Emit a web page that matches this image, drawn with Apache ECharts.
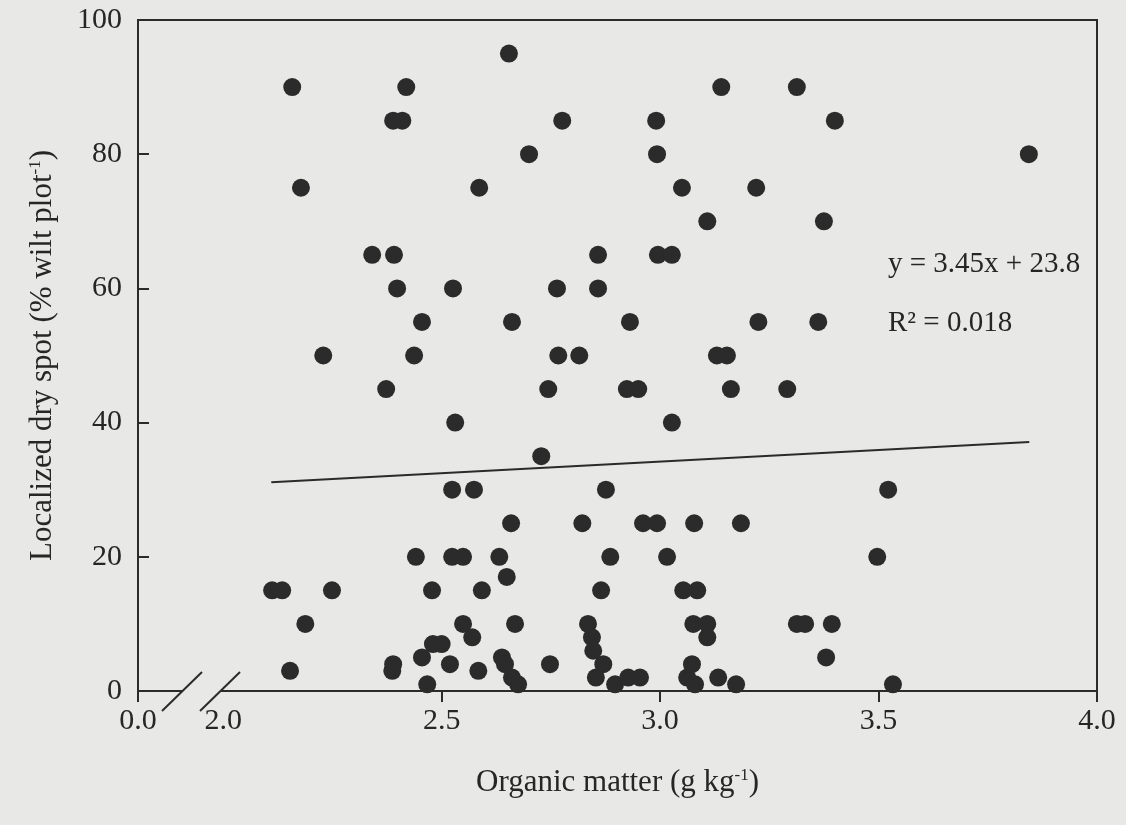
<!DOCTYPE html>
<html>
<head>
<meta charset="utf-8">
<script src="https://cdn.jsdelivr.net/npm/echarts@6/dist/echarts.min.js"></script>
<style>
  html, body { margin: 0; padding: 0; background: #e8e8e6; }
  #chart { width: 1126px; height: 825px; }
</style>
</head>
<body>
<div id="chart"></div>
<script>
// organic matter (g kg-1) and localized dry spot (% wilt plot-1)
const organicMatter = [
  2.158, 2.419, 2.389, 2.410, 2.178, 2.341, 2.391, 2.654, 3.140, 2.776,
  2.991, 2.700, 2.993, 2.586, 3.050, 3.220, 3.108, 2.858, 2.995, 3.027,
  3.313, 3.400, 3.844, 3.375, 2.398, 2.526, 2.455, 2.229, 2.437, 2.373,
  2.531, 2.764, 2.858, 2.661, 2.931, 3.225, 2.767, 2.815, 3.130, 3.153,
  2.744, 2.924, 2.950, 3.162, 3.027, 2.728, 2.524, 2.574, 2.876, 3.362,
  3.291, 3.522, 2.441, 2.112, 2.135, 2.249, 2.478, 2.188, 2.153, 2.389,
  2.387, 2.455, 2.480, 2.500, 2.467, 2.659, 2.822, 2.961, 2.993, 3.078,
  3.185, 2.524, 2.549, 2.632, 2.649, 2.886, 3.016, 2.592, 2.865, 3.053,
  3.085, 2.549, 2.570, 2.668, 2.835, 2.844, 2.847, 2.870, 2.853, 2.897,
  2.927, 2.954, 3.076, 3.108, 3.108, 3.073, 3.062, 3.080, 3.133, 3.174,
  2.519, 2.584, 2.748, 2.638, 2.645, 2.661, 2.675, 3.497, 3.313, 3.332,
  3.393, 3.380, 3.533
]
const drySpot = [
  90, 90, 85, 85, 75, 65, 65, 95, 90, 85,
  85, 80, 80, 75, 75, 75, 70, 65, 65, 65,
  90, 85, 80, 70, 60, 60, 55, 50, 50, 45,
  40, 60, 60, 55, 55, 55, 50, 50, 50, 50,
  45, 45, 45, 45, 40, 35, 30, 30, 30, 55,
  45, 30, 20, 15, 15, 15, 15, 10, 3, 4,
  3, 5, 7, 7, 1, 25, 25, 25, 25, 25,
  25, 20, 20, 20, 17, 20, 20, 15, 15, 15,
  15, 10, 8, 10, 10, 8, 6, 4, 2, 1,
  2, 2, 10, 10, 8, 4, 2, 1, 2, 1,
  4, 3, 4, 5, 4, 2, 1, 20, 10, 10,
  10, 5, 1
]
// fitted line y = 3.45x + 23.8, ends
const trendX = [2.11, 3.845]
const trendY = [31.1, 37.1]

const xAxisStart = 1.805   // drawn as "0.0" left of the axis break
const xLabelValues = [xAxisStart, 2.0, 2.5, 3.0, 3.5, 4.0]
const xTickValues = [xAxisStart, 2.5, 3.0, 3.5, 4.0]

const bg = '#e8e8e6'
const ink = '#2b2b2b'
const textInk = '#262626'
const serif = '"Liberation Serif", "Times New Roman", serif'

const chart = echarts.init(document.getElementById('chart'))

const points = organicMatter.map((x, i) => [x, drySpot[i]])
const trend = trendX.map((x, i) => [x, trendY[i]])

const nameStyle = {
  color: textInk,
  fontFamily: serif,
  fontSize: 31,
  rich: {
    sup: { color: textInk, fontFamily: serif, fontSize: 17, verticalAlign: 'top', lineHeight: 17 }
  }
}

const option = {
  backgroundColor: bg,
  animation: false,
  grid: {
    left: 138, right: 29, top: 20, bottom: 134,
    show: true, borderColor: ink, borderWidth: 2,
    backgroundColor: 'transparent',
    outerBoundsMode: 'none'
  },
  xAxis: {
    type: 'value',
    min: xAxisStart,
    max: 4.0,
    splitLine: { show: false },
    axisLine: { lineStyle: { color: ink, width: 2 } },
    axisTick: { customValues: xTickValues, inside: false, length: 11, lineStyle: { color: ink, width: 2 } },
    axisLabel: {
      customValues: xLabelValues,
      margin: 15,
      color: textInk,
      fontFamily: serif,
      fontSize: 30,
      formatter: v => (v < 1.9 ? '0.0' : v.toFixed(1))
    },
    name: 'Organic matter (g kg{sup|-1})',
    nameLocation: 'middle',
    nameGap: 76,
    nameTextStyle: nameStyle
  },
  yAxis: {
    type: 'value',
    min: 0,
    max: 100,
    interval: 20,
    splitLine: { show: false },
    axisLine: { lineStyle: { color: ink, width: 2 } },
    axisTick: { inside: true, length: 11, lineStyle: { color: ink, width: 2 } },
    axisLabel: { margin: 16, color: textInk, fontFamily: serif, fontSize: 30 },
    name: 'Localized dry spot (% wilt plot{sup|-1})',
    nameLocation: 'middle',
    nameGap: 80,
    nameTextStyle: nameStyle
  },
  series: [
    {
      type: 'scatter',
      data: points,
      symbolSize: 18,
      itemStyle: { color: ink, opacity: 1 },
      z: 3
    },
    {
      type: 'line',
      data: trend,
      symbol: 'none',
      lineStyle: { color: ink, width: 2 },
      z: 2
    }
  ]
}
chart.setOption(option)

// axis break marks and regression text
chart.setOption({
  graphic: [
    { type: 'rect', shape: { x: 182, y: 685, width: 39, height: 12 }, style: { fill: bg }, z: 100 },
    { type: 'line', shape: { x1: 162, y1: 711, x2: 202, y2: 672 }, style: { stroke: ink, lineWidth: 2 }, z: 101 },
    { type: 'line', shape: { x1: 200, y1: 711, x2: 240, y2: 672 }, style: { stroke: ink, lineWidth: 2 }, z: 101 },
    { type: 'text', x: 888, y: 250, style: { text: 'y = 3.45x + 23.8', font: '29px ' + serif, fill: textInk }, z: 50 },
    { type: 'text', x: 888, y: 309, style: { text: 'R² = 0.018', font: '29px ' + serif, fill: textInk }, z: 50 }
  ]
})
</script>
</body>
</html>
